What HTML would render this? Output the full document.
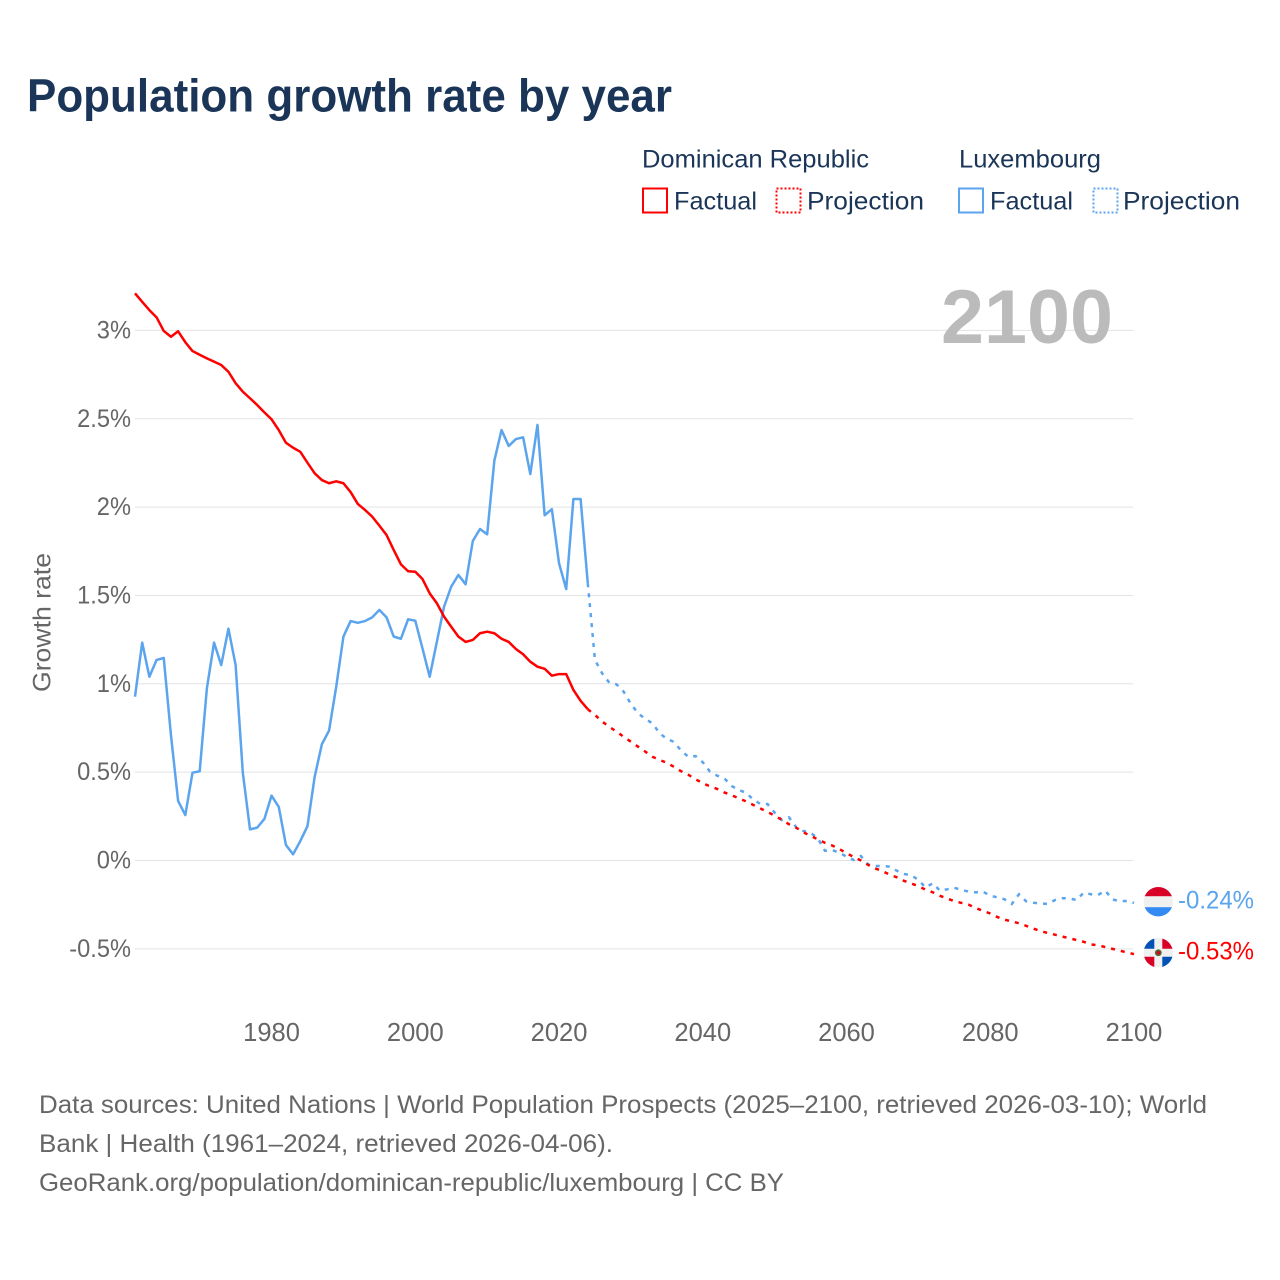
<!DOCTYPE html>
<html lang="en">
<head>
<meta charset="utf-8">
<title>Population growth rate by year</title>
<style>
html,body{margin:0;padding:0;background:#fff;}
svg{display:block;font-family:"Liberation Sans",sans-serif;}
.legend-text{font-size:25px;fill:#1a3557;}
.tick{font-size:25px;fill:#666;}
.foot{font-size:25px;fill:#666;}
</style>
</head>
<body>
<svg id="chart" xmlns="http://www.w3.org/2000/svg" width="1280" height="1280" viewBox="0 0 1280 1280">
  <defs>
    <clipPath id="flag-clip"><circle cx="0" cy="0" r="14.7"/></clipPath>
  </defs>
  <rect x="0" y="0" width="1280" height="1280" fill="#fff"/>
  <text x="27" y="111.5" font-size="46" font-weight="700" fill="#1a3557" textLength="645" lengthAdjust="spacingAndGlyphs">Population growth rate by year</text>

  <g>
    <text class="legend-text" x="642" y="167.5" textLength="227" lengthAdjust="spacingAndGlyphs">Dominican Republic</text>
    <text class="legend-text" x="959" y="167.5" textLength="142" lengthAdjust="spacingAndGlyphs">Luxembourg</text>
    <rect x="643" y="188.5" width="24" height="24" fill="none" stroke="#ff0000" stroke-width="2"/>
    <text class="legend-text" x="674" y="209.5" textLength="83" lengthAdjust="spacingAndGlyphs">Factual</text>
    <rect x="776.5" y="188.5" width="24" height="24" fill="none" stroke="#ff0000" stroke-width="2" stroke-dasharray="2 2"/>
    <text class="legend-text" x="807" y="209.5" textLength="117" lengthAdjust="spacingAndGlyphs">Projection</text>
    <rect x="959" y="188.5" width="24" height="24" fill="none" stroke="#5ba4ee" stroke-width="2"/>
    <text class="legend-text" x="990" y="209.5" textLength="83" lengthAdjust="spacingAndGlyphs">Factual</text>
    <rect x="1093.5" y="188.5" width="24" height="24" fill="none" stroke="#5ba4ee" stroke-width="2" stroke-dasharray="2 2"/>
    <text class="legend-text" x="1123" y="209.5" textLength="117" lengthAdjust="spacingAndGlyphs">Projection</text>
  </g>

  <g id="grid"></g>
  <g id="y-ticks"></g>
  <g id="x-ticks"></g>

  <text transform="translate(50.5,622.5) rotate(-90)" text-anchor="middle" font-size="25" fill="#666" textLength="139" lengthAdjust="spacingAndGlyphs">Growth rate</text>
  <text x="941" y="343" font-size="76" font-weight="700" fill="#bbbbbb" textLength="172" lengthAdjust="spacingAndGlyphs">2100</text>

  <g id="series"></g>

  <g id="flag-lu" clip-path="url(#flag-clip)">
    <rect x="-16" y="-16" width="32" height="32" fill="#f0f0f0"/>
    <rect x="-16" y="-16" width="32" height="10.5" fill="#d80027"/>
    <rect x="-16" y="5.5" width="32" height="11" fill="#338af3"/>
  </g>
  <g id="flag-dr" clip-path="url(#flag-clip)">
    <rect x="-16" y="-16" width="32" height="32" fill="#f0f0f0"/>
    <rect x="-16" y="-16" width="12" height="12" fill="#0052b4"/>
    <rect x="4" y="-16" width="12" height="12" fill="#d80027"/>
    <rect x="-16" y="4" width="12" height="12" fill="#d80027"/>
    <rect x="4" y="4" width="12" height="12" fill="#0052b4"/>
    <circle cx="0" cy="0" r="3.4" fill="#496e2d"/>
    <circle cx="0" cy="0" r="1.8" fill="#d80027"/>
  </g>
  <text id="label-lu" x="1178" y="908" font-size="25" fill="#5ba4ee" textLength="76" lengthAdjust="spacingAndGlyphs">-0.24%</text>
  <text id="label-dr" x="1178" y="959" font-size="25" fill="#ff0000" textLength="76" lengthAdjust="spacingAndGlyphs">-0.53%</text>

  <g>
    <text class="foot" x="39" y="1113" textLength="1168" lengthAdjust="spacingAndGlyphs">Data sources: United Nations | World Population Prospects (2025–2100, retrieved 2026-03-10); World</text>
    <text class="foot" x="39" y="1152" textLength="574" lengthAdjust="spacingAndGlyphs">Bank | Health (1961–2024, retrieved 2026-04-06).</text>
    <text class="foot" x="39" y="1191" textLength="745" lengthAdjust="spacingAndGlyphs">GeoRank.org/population/dominican-republic/luxembourg | CC BY</text>
  </g>
</svg>
<script>
const factualStartYear = 1961;
const projectionStartYear = 2024;
const yTickValues = [-0.5, 0, 0.5, 1, 1.5, 2, 2.5, 3];
const yTickLabels = ["-0.5%", "0%", "0.5%", "1%", "1.5%", "2%", "2.5%", "3%"];
const xTickYears = [1980, 2000, 2020, 2040, 2060, 2080, 2100];

const drFactual = [3.21,3.162,3.115,3.074,2.997,2.964,2.995,2.933,2.883,2.862,2.842,2.823,2.804,2.766,2.701,2.653,2.616,2.578,2.536,2.497,2.436,2.364,2.336,2.313,2.251,2.191,2.153,2.135,2.146,2.135,2.085,2.018,1.984,1.946,1.895,1.842,1.757,1.676,1.637,1.634,1.593,1.512,1.456,1.38,1.323,1.267,1.237,1.248,1.286,1.295,1.286,1.255,1.237,1.197,1.167,1.125,1.097,1.085,1.046,1.055,1.055,0.965,0.904,0.856];

const drProjection = [0.856,0.824,0.786,0.757,0.729,0.7,0.672,0.644,0.616,0.587,0.569,0.553,0.53,0.505,0.485,0.46,0.437,0.42,0.405,0.385,0.37,0.352,0.335,0.315,0.295,0.275,0.254,0.23,0.205,0.185,0.16,0.139,0.12,0.1,0.085,0.065,0.041,0.02,0,-0.025,-0.045,-0.06,-0.08,-0.095,-0.115,-0.13,-0.145,-0.165,-0.18,-0.2,-0.215,-0.23,-0.24,-0.25,-0.27,-0.285,-0.3,-0.32,-0.335,-0.345,-0.355,-0.37,-0.385,-0.4,-0.41,-0.42,-0.43,-0.44,-0.45,-0.46,-0.475,-0.48,-0.49,-0.5,-0.51,-0.52,-0.53];

const luFactual = [0.927,1.233,1.04,1.135,1.146,0.71,0.337,0.257,0.497,0.505,0.974,1.233,1.106,1.312,1.106,0.497,0.176,0.186,0.235,0.367,0.304,0.088,0.035,0.11,0.195,0.474,0.658,0.735,0.984,1.267,1.355,1.345,1.355,1.376,1.418,1.376,1.267,1.255,1.365,1.357,1.2,1.04,1.238,1.436,1.55,1.616,1.563,1.808,1.876,1.846,2.263,2.436,2.346,2.385,2.395,2.187,2.465,1.954,1.988,1.682,1.536,2.046,2.046,1.569];

const luProjection = [1.569,1.135,1.059,1.006,0.997,0.955,0.886,0.833,0.801,0.776,0.72,0.688,0.671,0.621,0.587,0.591,0.556,0.503,0.48,0.465,0.422,0.399,0.384,0.346,0.32,0.32,0.271,0.229,0.244,0.188,0.167,0.157,0.126,0.055,0.059,0.044,0.022,0.003,0.025,-0.022,-0.031,-0.031,-0.035,-0.058,-0.076,-0.083,-0.11,-0.153,-0.129,-0.171,-0.163,-0.154,-0.167,-0.176,-0.18,-0.176,-0.2,-0.208,-0.22,-0.246,-0.191,-0.231,-0.239,-0.243,-0.246,-0.224,-0.214,-0.214,-0.224,-0.182,-0.191,-0.195,-0.171,-0.22,-0.231,-0.229,-0.24];

const SVG_NS = "http://www.w3.org/2000/svg";
function xScale(year) { return 135 + (year - 1961) * (999 / 139); }
function yScale(value) { return 860.5 - value * 176.7; }

function makeEl(tag, parent) {
  const el = document.createElementNS(SVG_NS, tag);
  parent.appendChild(el);
  return el;
}

const gridGroup = document.getElementById("grid");
const yTickGroup = document.getElementById("y-ticks");
yTickValues.forEach(function (value, i) {
  const line = makeEl("line", gridGroup);
  
  
  line.setAttribute("x1", 135);
  line.setAttribute("x2", 1133);
  line.setAttribute("y1", yScale(value));
  line.setAttribute("y2", yScale(value));
  line.setAttribute("stroke", "#e3e3e3");
  line.setAttribute("stroke-width", "1");

  const label = makeEl("text", yTickGroup);
  
  
  label.setAttribute("class", "tick");
  label.setAttribute("x", 131);
  label.setAttribute("y", yScale(value) + 8);
  label.setAttribute("text-anchor", "end");
  label.textContent = yTickLabels[i];
  label.setAttribute("textLength", (label.getComputedTextLength() * 0.945).toFixed(1));
  label.setAttribute("lengthAdjust", "spacingAndGlyphs");
});

const xTickGroup = document.getElementById("x-ticks");
xTickYears.forEach(function (year) {
  const label = makeEl("text", xTickGroup);
  
  
  label.setAttribute("class", "tick");
  label.setAttribute("x", xScale(year));
  label.setAttribute("y", 1041);
  label.setAttribute("text-anchor", "middle");
  label.style.fontSize = "25.5px";
  label.textContent = String(year);
});

function linePath(values, startYear) {
  return values.map(function (v, i) {
    return (i ? "L" : "M") + xScale(startYear + i).toFixed(2) + " " + yScale(v).toFixed(2);
  }).join(" ");
}

const seriesGroup = document.getElementById("series");

const luProjectionLine = makeEl("path", seriesGroup);


luProjectionLine.setAttribute("d", linePath(luProjection, projectionStartYear));
luProjectionLine.setAttribute("fill", "none");
luProjectionLine.setAttribute("stroke", "#5ba4ee");
luProjectionLine.setAttribute("stroke-width", "2.5");
luProjectionLine.setAttribute("stroke-dasharray", "4 6");

const drProjectionLine = makeEl("path", seriesGroup);


drProjectionLine.setAttribute("d", linePath(drProjection, projectionStartYear));
drProjectionLine.setAttribute("fill", "none");
drProjectionLine.setAttribute("stroke", "#ff0000");
drProjectionLine.setAttribute("stroke-width", "2.5");
drProjectionLine.setAttribute("stroke-dasharray", "4 6");

const luFactualLine = makeEl("path", seriesGroup);


luFactualLine.setAttribute("d", linePath(luFactual, factualStartYear));
luFactualLine.setAttribute("fill", "none");
luFactualLine.setAttribute("stroke", "#5ba4ee");
luFactualLine.setAttribute("stroke-width", "2.5");
luFactualLine.setAttribute("stroke-linejoin", "round");

const drFactualLine = makeEl("path", seriesGroup);


drFactualLine.setAttribute("d", linePath(drFactual, factualStartYear));
drFactualLine.setAttribute("fill", "none");
drFactualLine.setAttribute("stroke", "#ff0000");
drFactualLine.setAttribute("stroke-width", "2.5");
drFactualLine.setAttribute("stroke-linejoin", "round");

const luLast = luProjection[luProjection.length - 1];
const drLast = drProjection[drProjection.length - 1];
document.getElementById("flag-lu").setAttribute("transform", "translate(1158.3," + (yScale(luLast) - 1.2).toFixed(2) + ")");
document.getElementById("flag-dr").setAttribute("transform", "translate(1158.3," + (yScale(drLast) - 1.4).toFixed(2) + ")");
const labelLu = document.getElementById("label-lu");
labelLu.textContent = luLast.toFixed(2) + "%";
labelLu.setAttribute("y", (yScale(luLast) + 5.6).toFixed(2));
const labelDr = document.getElementById("label-dr");
labelDr.textContent = drLast.toFixed(2) + "%";
labelDr.setAttribute("y", (yScale(drLast) + 5.4).toFixed(2));
</script>
</body>
</html>
